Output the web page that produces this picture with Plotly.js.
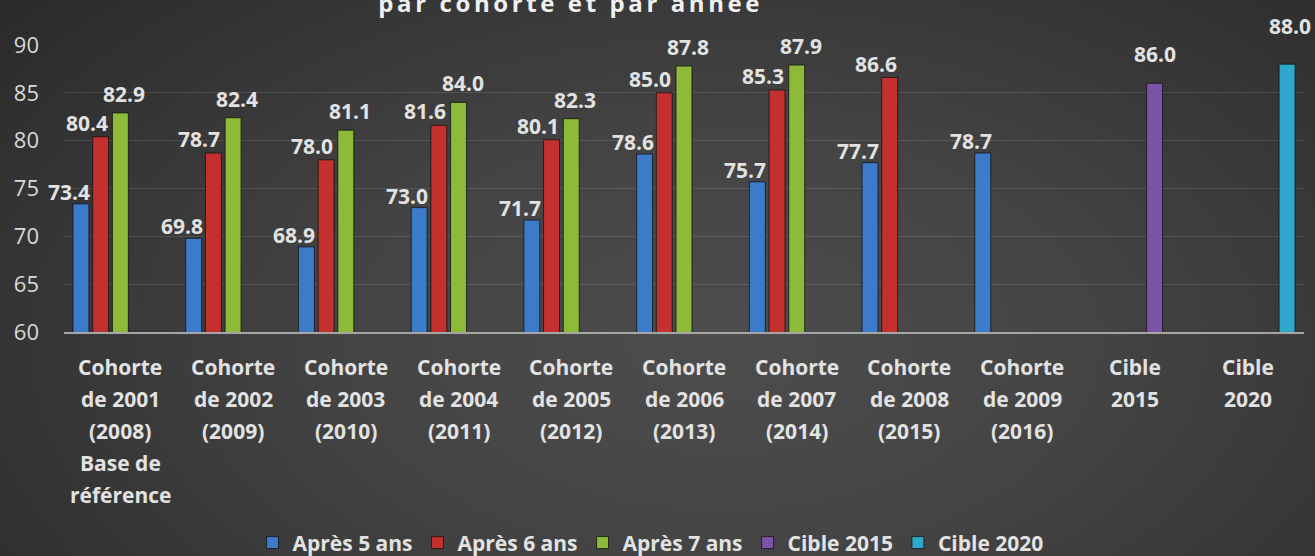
<!DOCTYPE html>
<html><head><meta charset="utf-8">
<script src="https://cdn.plot.ly/plotly-3.0.1.min.js"></script>
<style>
html,body{margin:0;padding:0;background:#2a2a2a;}
#chart{width:1315px;height:556px;background:radial-gradient(ellipse 70% 95% at 55% 62%, #4d4d4d 0%, #444444 40%, #2b2b2b 100%);}
.gtitle{letter-spacing:3.6px;}
</style></head><body><div id="chart"></div>
<script>
const categories = [
  'Cohorte<br>de 2001<br>(2008)<br>Base de<br>référence',
  'Cohorte<br>de 2002<br>(2009)',
  'Cohorte<br>de 2003<br>(2010)',
  'Cohorte<br>de 2004<br>(2011)',
  'Cohorte<br>de 2005<br>(2012)',
  'Cohorte<br>de 2006<br>(2013)',
  'Cohorte<br>de 2007<br>(2014)',
  'Cohorte<br>de 2008<br>(2015)',
  'Cohorte<br>de 2009<br>(2016)',
  'Cible<br>2015',
  'Cible<br>2020'
];
const seriesNames = ['Après 5 ans', 'Après 6 ans', 'Après 7 ans', 'Cible 2015', 'Cible 2020'];
const apres5 = [73.4, 69.8, 68.9, 73.0, 71.7, 78.6, 75.7, 77.7, 78.7, null, null];
const apres6 = [80.4, 78.7, 78.0, 81.6, 80.1, 85.0, 85.3, 86.6, null, null, null];
const apres7 = [82.9, 82.4, 81.1, 84.0, 82.3, 87.8, 87.9, null, null, null, null];
const cible2015 = [null, null, null, null, null, null, null, null, null, 86.0, null];
const cible2020 = [null, null, null, null, null, null, null, null, null, null, 88.0];
const titleText = 'par cohorte et par année';
const yTicks = [60, 65, 70, 75, 80, 85, 90];

const series = [apres5, apres6, apres7, cible2015, cible2020];
const colors = ['#3c7bc9', '#c4302e', '#8dba38', '#7a55a6', '#2da8cb'];
const labelShiftX = [-12, -14, 4, 0, 3];
const labelShiftY = [12, 14, 19, 29, 38];
const slotPx = 19.7;
const FONT = '"Open Sans", Lato, sans-serif';
const txtColor = '#e2e2e2';

const traces = series.map((vals, i) => ({
  type: 'bar',
  name: seriesNames[i],
  x: categories,
  y: vals,
  marker: {color: colors[i], line: {color: 'rgba(20,20,20,0.8)', width: 1}},
  hoverinfo: 'skip'
}));

const annotations = [];
series.forEach((vals, i) => {
  vals.forEach((v, j) => {
    if (v === null) return;
    annotations.push({
      x: categories[j], y: v, xref: 'x', yref: 'y',
      text: v.toFixed(1), showarrow: false,
      xanchor: 'center', yanchor: 'middle',
      xshift: (i - 2) * slotPx + labelShiftX[i],
      yshift: labelShiftY[i],
      font: {family: FONT, size: 21, color: txtColor, weight: 'bold'}
    });
  });
});
categories.forEach((c) => {
  c.split('<br>').forEach((line, k) => {
    annotations.push({
      x: c, y: 0, xref: 'x', yref: 'paper',
      text: line, showarrow: false,
      xanchor: 'center', yanchor: 'middle',
      yshift: -(35 + k * 32),
      font: {family: FONT, size: 21, color: txtColor, weight: 'bold'}
    });
  });
});

const layout = {
  width: 1315, height: 556,
  paper_bgcolor: 'rgba(0,0,0,0)', plot_bgcolor: 'rgba(0,0,0,0)',
  margin: {l: 64, r: 11, t: 45, b: 224, autoexpand: false},
  font: {family: FONT, color: txtColor},
  title: {
    text: titleText, x: 0.434, xanchor: 'center', xref: 'container',
    y: 1 - 4 / 556, yanchor: 'middle', yref: 'container', automargin: false,
    font: {family: FONT, size: 24, color: '#f0f0f0', weight: 'bold'}
  },
  barmode: 'group', bargap: 0.126, bargroupgap: 0.19,
  xaxis: {
    type: 'category', range: [-0.5, 10.5], showticklabels: false, showgrid: false,
    showline: true, linecolor: '#a6a6a6', linewidth: 2, ticks: '',
    zeroline: false, fixedrange: true, automargin: false
  },
  yaxis: {
    range: [60, 90], tickvals: yTicks, ticktext: yTicks.map(String),
    showgrid: true, gridcolor: 'rgba(255,255,255,0.11)', gridwidth: 1,
    zeroline: false, showline: false, ticks: '',
    ticklabelstandoff: 24, automargin: false,
    tickfont: {family: FONT, size: 22, color: '#d9d9d9'}, fixedrange: true
  },
  legend: {
    orientation: 'h', x: 0.473, xanchor: 'center', y: -0.735, yanchor: 'middle',
    xref: 'paper', yref: 'paper',
    font: {family: FONT, size: 21, color: txtColor, weight: 'bold'},
    bgcolor: 'rgba(0,0,0,0)', itemclick: false, itemdoubleclick: false
  },
  annotations: annotations,
  showlegend: true
};

Plotly.newPlot('chart', traces, layout, {displayModeBar: false, staticPlot: true});
</script></body></html>
